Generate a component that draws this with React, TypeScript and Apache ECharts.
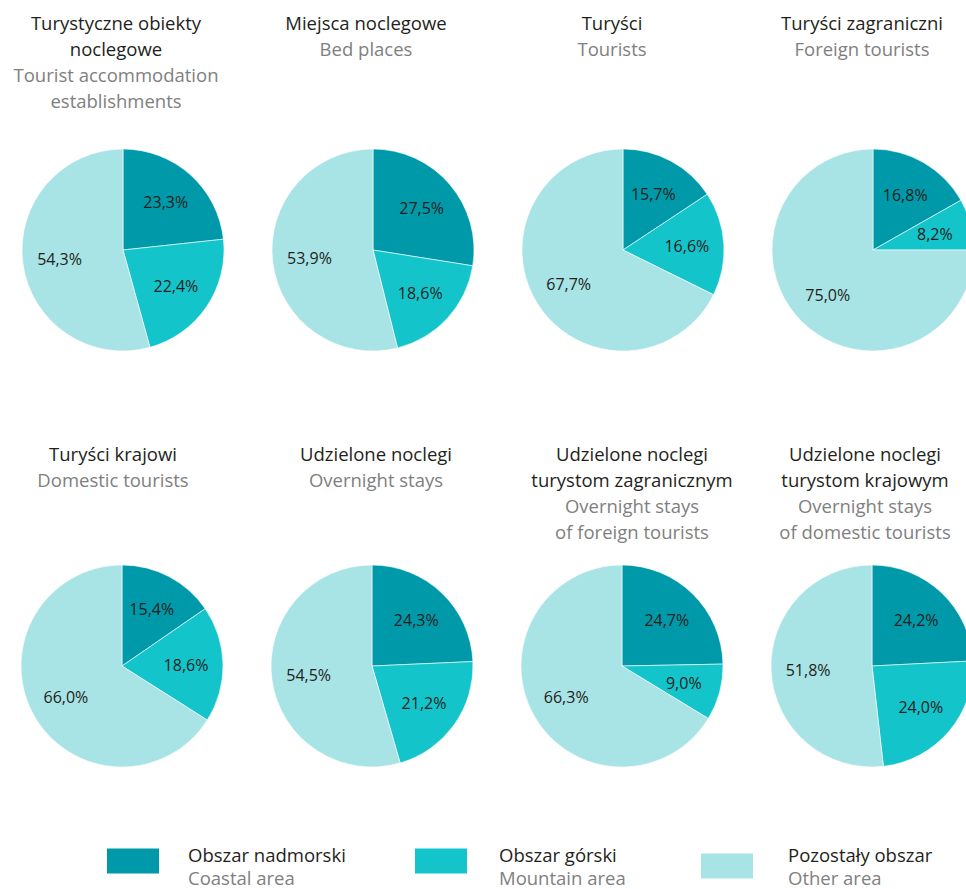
import React, { useEffect, useRef } from "react";
import * as echarts from "echarts";

const categories = ["Obszar nadmorski", "Obszar górski", "Pozostały obszar"];
const categoriesEn = ["Coastal area", "Mountain area", "Other area"];

const titlesPl = [
  "Turystyczne obiekty\nnoclegowe",
  "Miejsca noclegowe",
  "Turyści",
  "Turyści zagraniczni",
  "Turyści krajowi",
  "Udzielone noclegi",
  "Udzielone noclegi\nturystom zagranicznym",
  "Udzielone noclegi\nturystom krajowym",
];
const titlesEn = [
  "Tourist accommodation\nestablishments",
  "Bed places",
  "Tourists",
  "Foreign tourists",
  "Domestic tourists",
  "Overnight stays",
  "Overnight stays\nof foreign tourists",
  "Overnight stays\nof domestic tourists",
];

const coastal = [23.3, 27.5, 15.7, 16.8, 15.4, 24.3, 24.7, 24.2];
const mountain = [22.4, 18.6, 16.6, 8.2, 18.6, 21.2, 9.0, 24.0];
const other = [54.3, 53.9, 67.7, 75.0, 66.0, 54.5, 66.3, 51.8];

const COLORS = ["#0099a9", "#13c4cb", "#a8e3e5"];
const FONT = "'Open Sans', sans-serif";

export default function App() {
  const ref = useRef<HTMLDivElement>(null);
  useEffect(() => {
    if (!ref.current) return;
    const chart = echarts.init(ref.current, null, { renderer: "svg" });

    const pieCx = [123, 373, 623, 873];
    const pieCy = [250, 666];
    const titleCx = [[116, 366, 612, 862], [113, 376, 632, 865]];
    const titleTop = [9, 440];
    const R = 101;

    const series: any[] = [];
    const titles: any[] = [];
    for (let i = 0; i < 8; i++) {
      const row = Math.floor(i / 4);
      const col = i % 4;
      const data = categories.map((name, k) => ({
        name,
        value: [coastal, mountain, other][k][i],
      }));
      const center = [pieCx[col] - (row === 1 ? 1 : 0), pieCy[row]];
      series.push({
        type: "pie",
        center,
        radius: [0, R],
        startAngle: 90,
        clockwise: true,
        silent: true,
        label: { show: false },
        labelLine: { show: false },
        itemStyle: { borderColor: "#ffffff", borderWidth: 0.6 },
        data,
      });
      series.push({
        type: "pie",
        center,
        radius: [21, R],
        startAngle: 90,
        clockwise: true,
        silent: true,
        itemStyle: { color: "rgba(0,0,0,0)" },
        label: {
          show: true,
          position: "inside",
          color: "#231f20",
          fontFamily: FONT,
          fontSize: 16,
          formatter: (p: any) => p.value.toFixed(1).replace(".", ",") + "%",
        },
        labelLine: { show: false },
        data,
      });
      titles.push({
        text: titlesPl[i],
        subtext: titlesEn[i],
        left: titleCx[row][col],
        top: titleTop[row],
        textAlign: "center",
        padding: 0,
        itemGap: 0,
        textStyle: {
          fontFamily: FONT,
          fontSize: 18.5,
          fontWeight: "normal",
          color: "#231f20",
          lineHeight: 26,
        },
        subtextStyle: {
          fontFamily: FONT,
          fontSize: 18.5,
          color: "#808080",
          lineHeight: 26,
        },
      });
    }

    const legendLeft = [105, 413, 699];
    const legendTop = [845, 845, 845];
    const legendPad = [
      [1, 0, 0, 23],
      [1, 0, 0, 26],
      [0, 0, 9, 29],
    ];
    const legends = categories.map((name, k) => ({
      data: [name],
      left: legendLeft[k],
      top: legendTop[k],
      padding: 0,
      icon: "rect",
      itemWidth: 54,
      itemHeight: 27,
      selectedMode: false,
      formatter: (n: string) => `{a|${n}}\n{b|${categoriesEn[categories.indexOf(n)]}}`,
      textStyle: {
        fontFamily: FONT,
        fontSize: 18.5,
        padding: legendPad[k],
        rich: {
          a: { fontFamily: FONT, fontSize: 18.5, color: "#231f20", lineHeight: 32 },
          b: { fontFamily: FONT, fontSize: 18.5, color: "#808080", lineHeight: 14 },
        },
      },
    }));

    chart.setOption({
      animation: false,
      color: COLORS,
      title: titles,
      legend: legends,
      series,
    });
    return () => chart.dispose();
  }, []);
  return (
    <div
      ref={ref}
      style={{ position: "absolute", left: 0, top: 0, width: 966, height: 889, background: "#fff" }}
    />
  );
}
